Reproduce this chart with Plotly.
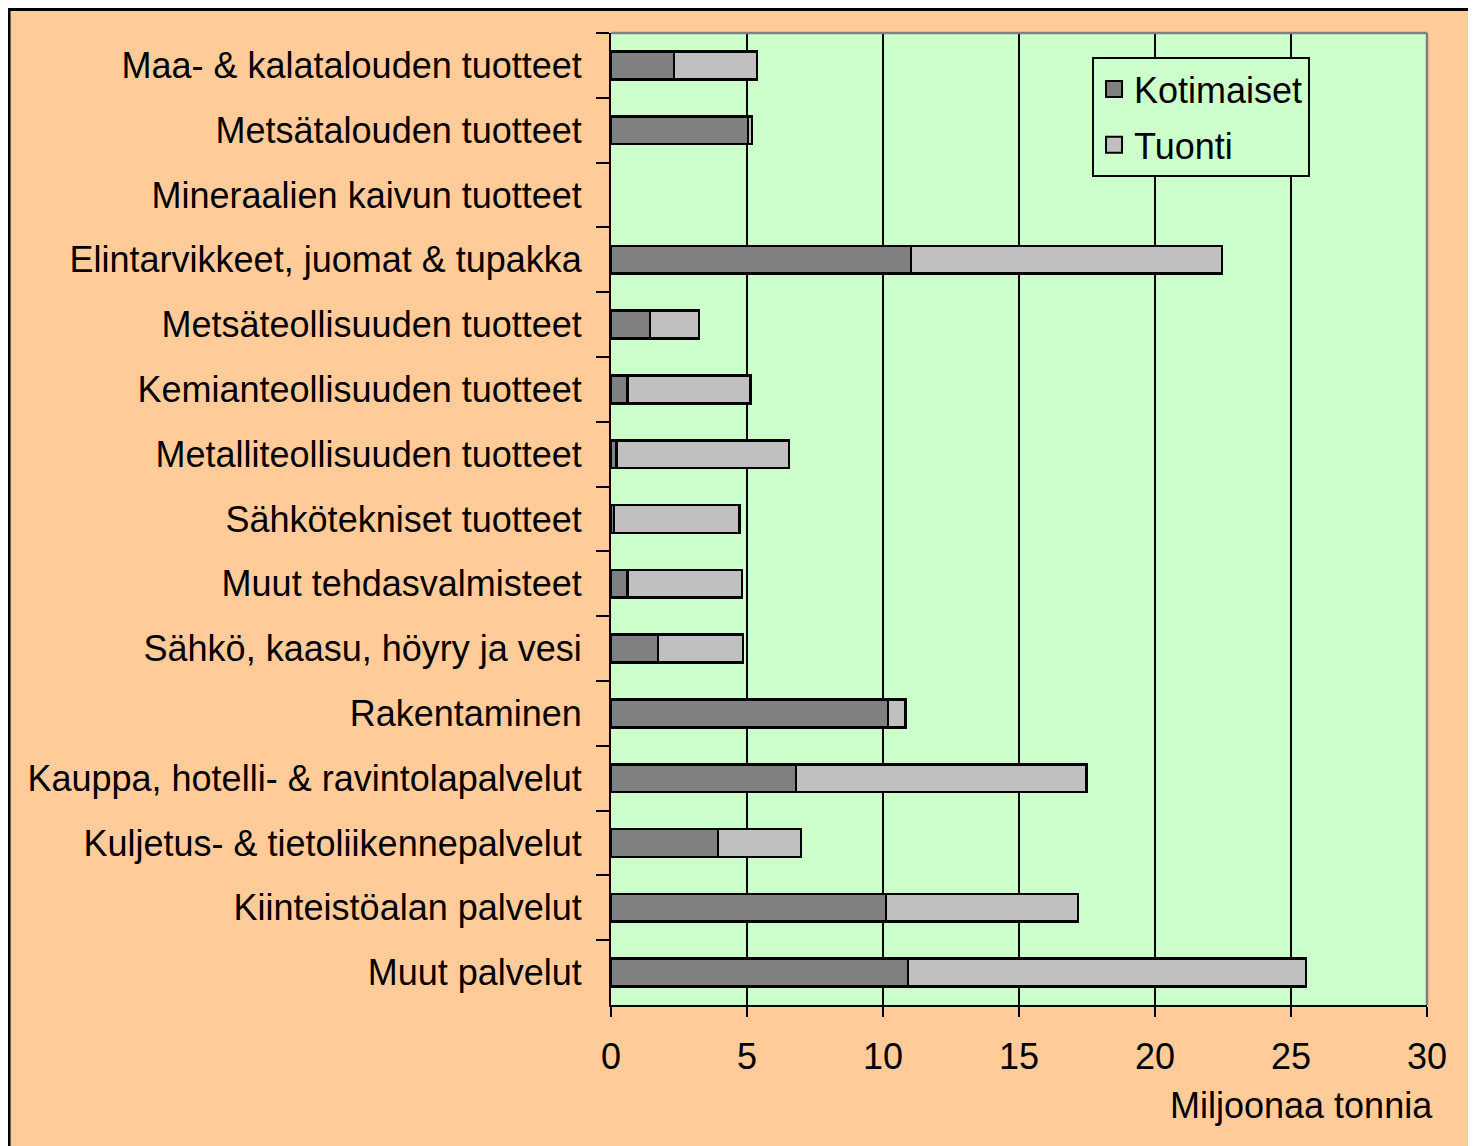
import plotly.graph_objects as go

categories = [
    "Maa- & kalatalouden tuotteet",
    "Metsätalouden tuotteet",
    "Mineraalien kaivun tuotteet",
    "Elintarvikkeet, juomat & tupakka",
    "Metsäteollisuuden tuotteet",
    "Kemianteollisuuden tuotteet",
    "Metalliteollisuuden tuotteet",
    "Sähkötekniset tuotteet",
    "Muut tehdasvalmisteet",
    "Sähkö, kaasu, höyry ja vesi",
    "Rakentaminen",
    "Kauppa, hotelli- & ravintolapalvelut",
    "Kuljetus- & tietoliikennepalvelut",
    "Kiinteistöalan palvelut",
    "Muut palvelut",
]
kotimaiset = [2.32, 5.04, 0.0, 11.03, 1.43, 0.60, 0.21, 0.11, 0.61, 1.73, 10.19, 6.80, 3.93, 10.11, 10.92]
tuonti = [3.04, 0.14, 0.0, 11.43, 1.81, 4.53, 6.33, 4.62, 4.21, 3.12, 0.63, 10.69, 3.06, 7.06, 14.63]
series_names = ["Kotimaiset", "Tuonti"]
series_colors = ["#808080", "#C0C0C0"]
x_ticks = [0, 5, 10, 15, 20, 25, 30]

FONT = "Liberation Sans, Arial, sans-serif"
FS = 36


def nz(vals):
    return [v if v else None for v in vals]


fig = go.Figure()
for name, vals, col in zip(series_names, [kotimaiset, tuonti], series_colors):
    fig.add_trace(go.Bar(
        y=categories, x=nz(vals), orientation="h", name=name,
        showlegend=False,
        marker=dict(color=col, line=dict(color="black", width=2.5)),
    ))
for i, (name, col) in enumerate(zip(series_names, series_colors)):
    fig.add_trace(go.Scatter(
        x=[None], y=[None], mode="markers", name=name, legendgroup=f"g{i}",
        marker=dict(symbol="square", size=16, color=col, line=dict(color="black", width=2)),
    ))

fig.update_layout(
    width=1476, height=1146,
    barmode="stack", bargap=0.57,
    paper_bgcolor="#FFCC99", plot_bgcolor="#CCFFCC",
    margin=dict(l=603, r=57, t=25, b=149),
    font=dict(family=FONT, size=FS, color="black"),
    legend=dict(
        x=0.5895, y=0.9753, xanchor="left", yanchor="top",
        bgcolor="#CCFFCC", bordercolor="black", borderwidth=2,
        font=dict(family=FONT, size=FS, color="black"),
        traceorder="grouped", tracegroupgap=6,
        itemwidth=30,
    ),
    xaxis=dict(
        range=[0, 30], tickvals=x_ticks, ticktext=[str(v) for v in x_ticks],
        showgrid=True, gridcolor="black", gridwidth=2,
        showline=True, linecolor="black", linewidth=2,
        ticks="outside", ticklen=10, tickwidth=2, tickcolor="black",
        ticklabelstandoff=9, zeroline=False,
        tickfont=dict(family=FONT, size=FS, color="black"),
    ),
    yaxis=dict(
        autorange="reversed", type="category",
        showline=True, linecolor="black", linewidth=2,
        ticks="outside", tickson="boundaries", ticklen=13, tickwidth=2, tickcolor="black",
        ticklabelstandoff=20, showgrid=False,
        tickfont=dict(family=FONT, size=FS, color="black"),
    ),
    annotations=[dict(
        text="Miljoonaa tonnia", xref="paper", yref="paper",
        x=1.0098, y=-0.1039, xanchor="right", yanchor="middle", showarrow=False,
        font=dict(family=FONT, size=FS, color="black"),
    )],
    shapes=[
        dict(type="line", xref="paper", yref="paper", x0=0, x1=1, y0=1, y1=1,
             line=dict(color="#808080", width=2.5), layer="above"),
        dict(type="line", xref="paper", yref="paper", x0=1, x1=1, y0=0, y1=1,
             line=dict(color="#808080", width=2.5), layer="above"),
        dict(type="rect", xref="paper", yref="paper",
             x0=-0.7377, x1=1.2, y0=-0.3, y1=1.0242,
             line=dict(color="black", width=3), layer="above"),
    ],
)

fig.write_html("out.html")
